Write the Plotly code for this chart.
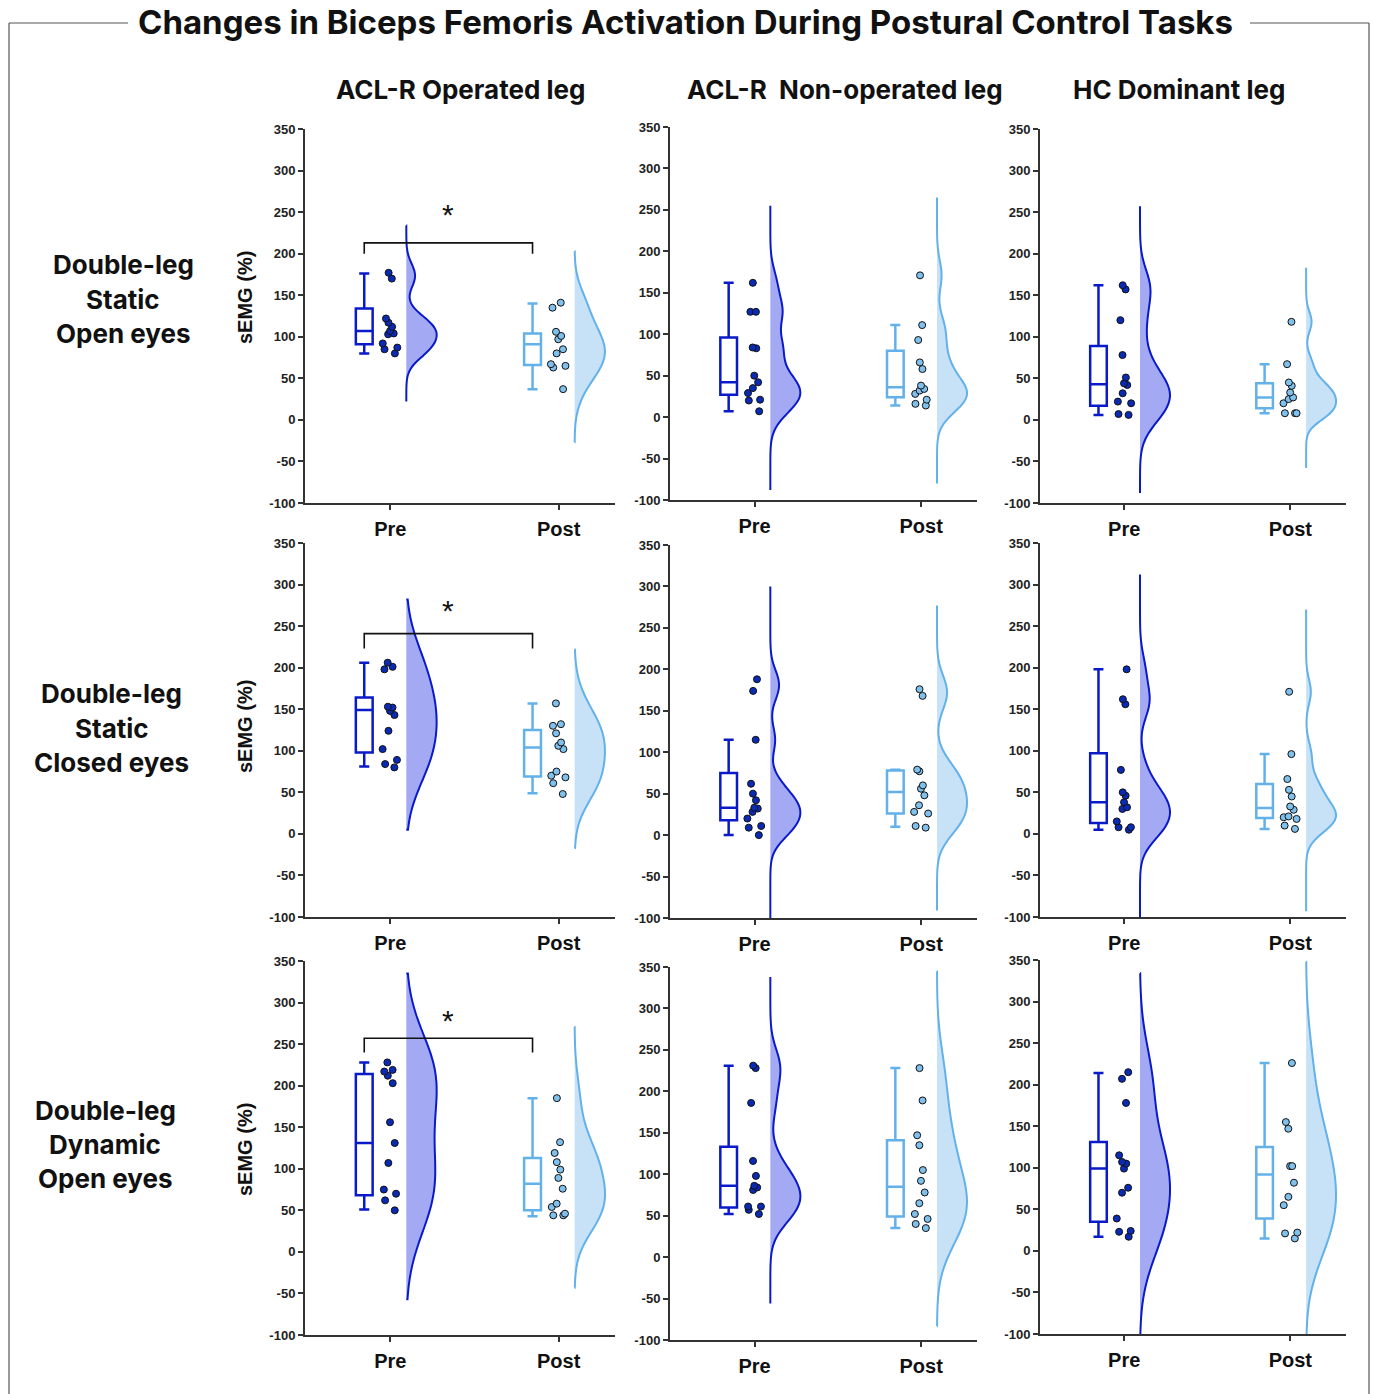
import plotly.graph_objects as go

# ---------------- text ----------------
title_text = "Changes in Biceps Femoris Activation During Postural Control Tasks"
column_titles = ["ACL-R Operated leg", "ACL-R  Non-operated leg", "HC Dominant leg"]
row_labels = [["Double-leg", "Static", "Open eyes"],
              ["Double-leg", "Static", "Closed eyes"],
              ["Double-leg", "Dynamic", "Open eyes"]]
group_labels = ["Pre", "Post"]
y_title = "sEMG (%)"
y_ticks = [-100, -50, 0, 50, 100, 150, 200, 250, 300, 350]
y_tick_text = ["-100", "-50", "0", "50", "100", "150", "200", "250", "300", "350"]

# ---------------- data: individual points (sEMG %) ----------------
pre_r1c1 = [177, 170, 122, 117, 112, 107, 104, 103, 92, 87, 85, 80]
post_r1c1 = [141, 135, 106, 101, 97, 85, 80, 67, 65, 63, 37]
pre_r1c2 = [162, 127, 127, 84, 83, 50, 42, 35, 29, 21, 20, 7]
post_r1c2 = [171, 111, 93, 66, 58, 38, 34, 32, 28, 21, 16, 14]
pre_r1c3 = [162, 157, 120, 78, 51, 44, 42, 32, 22, 20, 7, 6]
post_r1c3 = [118, 67, 45, 41, 33, 27, 25, 20, 8, 8, 8]

pre_r2c1 = [206, 201, 198, 153, 152, 148, 143, 124, 102, 89, 84, 80]
post_r2c1 = [157, 132, 130, 121, 110, 106, 102, 75, 70, 68, 61, 48]
pre_r2c2 = [188, 174, 115, 62, 50, 42, 33, 32, 28, 20, 11, 9, 0]
post_r2c2 = [176, 168, 79, 77, 60, 56, 48, 36, 28, 26, 11, 9]
pre_r2c3 = [198, 162, 156, 77, 50, 46, 38, 32, 30, 15, 8, 8, 5]
post_r2c3 = [171, 96, 66, 53, 45, 33, 29, 21, 20, 18, 10, 6]

pre_r3c1 = [228, 219, 217, 212, 203, 156, 131, 107, 75, 70, 62, 50]
post_r3c1 = [185, 132, 119, 108, 99, 89, 76, 58, 54, 46, 44, 44]
pre_r3c2 = [231, 228, 186, 116, 98, 86, 84, 81, 61, 61, 57, 52]
post_r3c2 = [228, 189, 147, 135, 105, 92, 78, 65, 52, 46, 40, 35]
pre_r3c3 = [215, 207, 178, 115, 107, 105, 99, 76, 70, 39, 24, 23, 17]
post_r3c3 = [226, 155, 147, 102, 102, 82, 65, 55, 22, 21, 15]

# ---------------- box statistics: [lower whisker, Q1, median, Q3, upper whisker] ----------------
box_pre_r1c1 = [80, 91, 107, 134, 176]
box_post_r1c1 = [37, 66, 91, 104, 140]
box_pre_r1c2 = [7, 27, 42, 96, 162]
box_post_r1c2 = [14, 24, 36, 80, 111]
box_pre_r1c3 = [6, 17, 43, 89, 162]
box_post_r1c3 = [8, 14, 27, 44, 67]

box_pre_r2c1 = [81, 98, 149, 164, 206]
box_post_r2c1 = [49, 69, 104, 125, 157]
box_pre_r2c2 = [0, 18, 33, 75, 115]
box_post_r2c2 = [10, 26, 52, 78, 79]
box_pre_r2c3 = [5, 13, 38, 97, 198]
box_post_r2c3 = [6, 19, 31, 60, 96]

box_pre_r3c1 = [51, 68, 131, 214, 228]
box_post_r3c1 = [43, 50, 82, 113, 185]
box_pre_r3c2 = [52, 60, 86, 133, 231]
box_post_r3c2 = [35, 49, 85, 141, 228]
box_pre_r3c3 = [17, 35, 99, 131, 214]
box_post_r3c3 = [15, 39, 92, 125, 226]

# ---------------- density (half violin) extent and bandwidth ----------------
span_pre_r1c1, bw_pre_r1c1 = [22, 234], 14
span_post_r1c1, bw_post_r1c1 = [-27, 203], 22
span_pre_r1c2, bw_pre_r1c2 = [-88, 255], 18
span_post_r1c2, bw_post_r1c2 = [-80, 265], 18
span_pre_r1c3, bw_pre_r1c3 = [-88, 257], 22
span_post_r1c3, bw_post_r1c3 = [-58, 183], 12

span_pre_r2c1, bw_pre_r2c1 = [5, 282], 38
span_post_r2c1, bw_post_r2c1 = [-17, 222], 28
span_pre_r2c2, bw_pre_r2c2 = [-110, 300], 16
span_post_r2c2, bw_post_r2c2 = [-91, 277], 20
span_pre_r2c3, bw_pre_r2c3 = [-110, 312], 20
span_post_r2c3, bw_post_r2c3 = [-93, 270], 15

span_pre_r3c1, bw_pre_r3c1 = [-57, 335], 50
span_post_r3c1, bw_post_r3c1 = [-43, 271], 30
span_pre_r3c2, bw_pre_r3c2 = [-56, 338], 22
span_post_r3c2, bw_post_r3c2 = [-83, 345], 38
span_pre_r3c3, bw_pre_r3c3 = [-110, 334], 45
span_post_r3c3, bw_post_r3c3 = [-110, 348], 45

# ---------------- significance (only operated leg column) ----------------
sig_rows = [0, 1, 2]
sig_bracket_top = [213, 241, 257]
sig_bracket_end = [200, 223, 240]
sig_star_y = [247, 269, 279]
sig_label = "*"

# ---------------- assemble ----------------
panels = [
    [(pre_r1c1, post_r1c1, box_pre_r1c1, box_post_r1c1, span_pre_r1c1, bw_pre_r1c1, span_post_r1c1, bw_post_r1c1),
     (pre_r1c2, post_r1c2, box_pre_r1c2, box_post_r1c2, span_pre_r1c2, bw_pre_r1c2, span_post_r1c2, bw_post_r1c2),
     (pre_r1c3, post_r1c3, box_pre_r1c3, box_post_r1c3, span_pre_r1c3, bw_pre_r1c3, span_post_r1c3, bw_post_r1c3)],
    [(pre_r2c1, post_r2c1, box_pre_r2c1, box_post_r2c1, span_pre_r2c1, bw_pre_r2c1, span_post_r2c1, bw_post_r2c1),
     (pre_r2c2, post_r2c2, box_pre_r2c2, box_post_r2c2, span_pre_r2c2, bw_pre_r2c2, span_post_r2c2, bw_post_r2c2),
     (pre_r2c3, post_r2c3, box_pre_r2c3, box_post_r2c3, span_pre_r2c3, bw_pre_r2c3, span_post_r2c3, bw_post_r2c3)],
    [(pre_r3c1, post_r3c1, box_pre_r3c1, box_post_r3c1, span_pre_r3c1, bw_pre_r3c1, span_post_r3c1, bw_post_r3c1),
     (pre_r3c2, post_r3c2, box_pre_r3c2, box_post_r3c2, span_pre_r3c2, bw_pre_r3c2, span_post_r3c2, bw_post_r3c2),
     (pre_r3c3, post_r3c3, box_pre_r3c3, box_post_r3c3, span_pre_r3c3, bw_pre_r3c3, span_post_r3c3, bw_post_r3c3)],
]

W, H = 1373, 1394
PRE_LINE, PRE_FILL, PRE_DOT = "#0a1ac8", "#a4a9f3", "#0a2ab4"
POST_LINE, POST_FILL, POST_DOT = "#62b1ea", "#c7e2f6", "#7fc0ec"
AXIS_COLOR = "#333333"
TEXT_FONT = "Inter, Roboto, sans-serif"
NUM_FONT = "Liberation Sans, Arial, sans-serif"

BOX_OFF, VIO_OFF = -0.155, 0.095

# panel pixel domains
col_x = [(305, 615), (670, 977), (1040, 1346)]
row_y = [[(129, 503), (127, 500), (129, 503)],
         [(543, 917), (545, 918), (543, 917)],
         [(961, 1335), (967, 1340), (960, 1334)]]

fig = go.Figure()
layout = dict()
shapes = []
annotations = []

for r in range(3):
    for c in range(3):
        idx = r * 3 + c + 1
        sx = "" if idx == 1 else str(idx)
        xa, ya = "x" + sx, "y" + sx
        pre, post, bpre, bpost, sp_pre, bw_pre, sp_post, bw_post = panels[r][c]
        groups = [
            (0, pre, bpre, sp_pre, bw_pre, PRE_LINE, PRE_FILL, PRE_DOT),
            (1, post, bpost, sp_post, bw_post, POST_LINE, POST_FILL, POST_DOT),
        ]
        for gpos, vals, bstat, sp, bw, lc, fc, dc in groups:
            # half violin
            fig.add_trace(go.Violin(
                x=[gpos + VIO_OFF] * len(vals), y=vals, xaxis=xa, yaxis=ya,
                side="positive", width=0.36, scalemode="width",
                bandwidth=bw, spanmode="manual", span=sp,
                points=False, box_visible=False, meanline_visible=False,
                line=dict(color=lc, width=2), fillcolor=fc, opacity=1,
                showlegend=False, hoverinfo="skip"))
            # box (precomputed)
            fig.add_trace(go.Box(
                x=[gpos + BOX_OFF], lowerfence=[bstat[0]], q1=[bstat[1]],
                median=[bstat[2]], q3=[bstat[3]], upperfence=[bstat[4]],
                xaxis=xa, yaxis=ya, width=0.10, whiskerwidth=0.6,
                line=dict(color=lc, width=2.5), fillcolor="white",
                boxpoints=False, showlegend=False, hoverinfo="skip"))
            # individual points (jittered)
            fig.add_trace(go.Box(
                x=[gpos] * len(vals), y=vals, xaxis=xa, yaxis=ya,
                width=0.12, boxpoints="all", jitter=0.9, pointpos=0,
                line=dict(color="rgba(0,0,0,0)", width=0),
                fillcolor="rgba(0,0,0,0)",
                marker=dict(color=dc, size=7, line=dict(color="#111111", width=1)),
                showlegend=False, hoverinfo="skip"))

        x0, x1 = col_x[c]
        y0, y1 = row_y[r][c]
        layout["xaxis" + sx] = dict(
            domain=[x0 / W, x1 / W], anchor=ya, range=[-0.507, 1.335],
            tickvals=[0, 1], ticktext=group_labels, ticks="outside",
            ticklen=5, tickwidth=1.5, tickcolor=AXIS_COLOR,
            showline=True, linecolor=AXIS_COLOR, linewidth=2,
            showgrid=False, zeroline=False, ticklabelstandoff=2,
            automargin=False, fixedrange=True,
            tickfont=dict(family=NUM_FONT, size=20, color="#111111", weight="bold"))
        layout["yaxis" + sx] = dict(
            domain=[1 - y1 / H, 1 - y0 / H], anchor=xa, range=[-100, 350],
            tickvals=y_ticks, ticktext=y_tick_text, ticks="outside",
            ticklen=5, tickwidth=1.5,
            tickcolor=AXIS_COLOR, showline=True, linecolor=AXIS_COLOR,
            linewidth=2, showgrid=False, zeroline=False,
            automargin=False, fixedrange=True,
            tickfont=dict(family=NUM_FONT, size=13, color="#222222", weight="bold"))

# significance brackets
for k, r in enumerate(sig_rows):
    idx = r * 3 + 1
    sx = "" if idx == 1 else str(idx)
    bx0, bx1 = 0 + BOX_OFF, 1 + BOX_OFF
    shapes.append(dict(
        type="path", xref="x" + sx, yref="y" + sx,
        path=f"M {bx0},{sig_bracket_end[k]} L {bx0},{sig_bracket_top[k]} "
             f"L {bx1},{sig_bracket_top[k]} L {bx1},{sig_bracket_end[k]}",
        line=dict(color="#111111", width=1.6)))
    annotations.append(dict(
        x=(bx0 + bx1) / 2, y=sig_star_y[k], xref="x" + sx, yref="y" + sx,
        xanchor="center", yanchor="middle",
        text=sig_label, showarrow=False,
        font=dict(family=NUM_FONT, size=30, color="#111111")))

# y axis titles (first column)
ytitle_y = [298, 727, 1150]
for r in range(3):
    annotations.append(dict(
        x=245 / W, y=1 - ytitle_y[r] / H, xref="paper", yref="paper",
        xanchor="center", yanchor="middle",
        text=y_title, textangle=-90, showarrow=False,
        font=dict(family=NUM_FONT, size=20, color="#111111", weight="bold")))

# column titles
col_title_x = [460, 845, 1179]
for c in range(3):
    annotations.append(dict(
        x=col_title_x[c] / W, y=1 - 89 / H, xref="paper", yref="paper",
        xanchor="center", yanchor="middle",
        text=column_titles[c], showarrow=False,
        font=dict(family=TEXT_FONT, size=26, color="#111111", weight="bold")))

# row labels
row_label_x = [123, 112, 105]
row_label_y0 = [265, 694, 1110]
for r in range(3):
    for j, line in enumerate(row_labels[r]):
        annotations.append(dict(
            x=row_label_x[r] / W, y=1 - (row_label_y0[r] + 34 * j) / H,
            xref="paper", yref="paper", xanchor="center", yanchor="middle",
            text=line, showarrow=False,
            font=dict(family=TEXT_FONT, size=26, color="#111111", weight="bold")))

# main title
annotations.append(dict(
    x=685 / W, y=1 - 22 / H, xref="paper", yref="paper", text=title_text,
    xanchor="center", yanchor="middle", showarrow=False,
    font=dict(family=TEXT_FONT, size=33, color="#111111", weight="bold")))

# outer frame (open at title and bottom)
frame = dict(type="line", xref="paper", yref="paper",
             line=dict(color="#555555", width=1.2))
shapes.append(dict(frame, x0=9 / W, x1=128 / W, y0=1 - 23 / H, y1=1 - 23 / H))
shapes.append(dict(frame, x0=1250 / W, x1=1369 / W, y0=1 - 23 / H, y1=1 - 23 / H))
shapes.append(dict(frame, x0=9 / W, x1=9 / W, y0=1 - 23 / H, y1=0))
shapes.append(dict(frame, x0=1369 / W, x1=1369 / W, y0=1 - 23 / H, y1=0))

fig.update_layout(
    width=W, height=H, margin=dict(l=0, r=0, t=0, b=0, autoexpand=False),
    paper_bgcolor="white", plot_bgcolor="white",
    boxmode="overlay", violinmode="overlay",
    shapes=shapes, annotations=annotations, showlegend=False,
    **layout)

fig.write_html("out.html", config={"displayModeBar": False},
               post_script="document.body.style.margin='0px';")
